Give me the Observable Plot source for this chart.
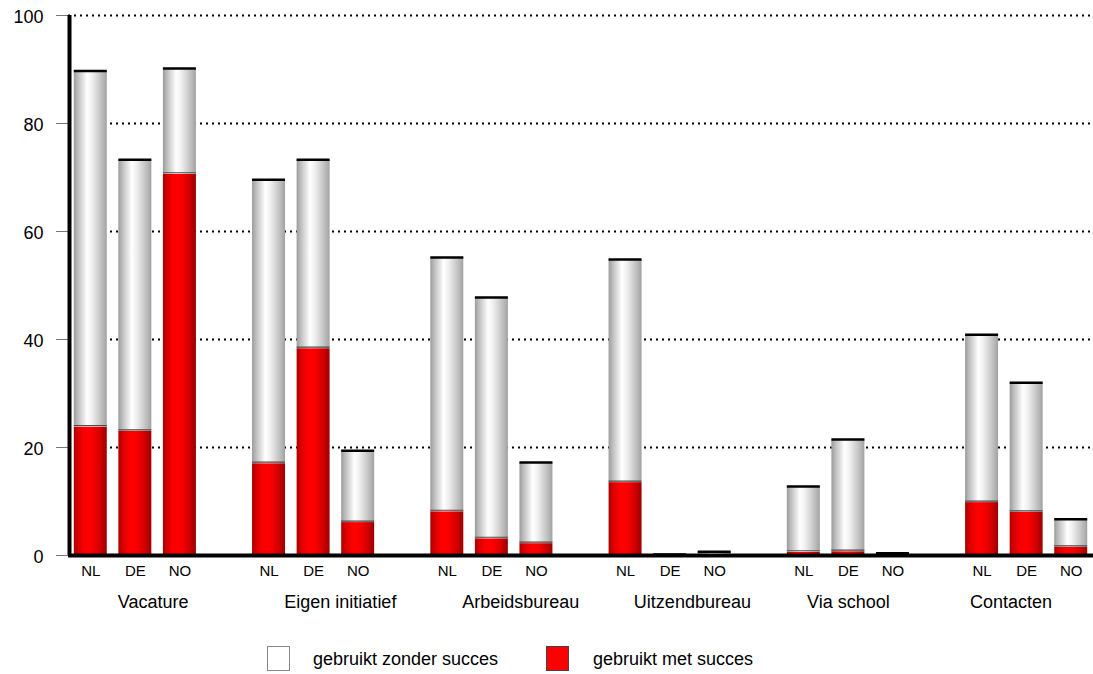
<!DOCTYPE html>
<html><head><meta charset="utf-8">
<script src="https://cdn.jsdelivr.net/npm/d3@7"></script>
<script src="https://cdn.jsdelivr.net/npm/@observablehq/plot@0.6"></script>
<style>
body{margin:0;background:#fff;font-family:"Liberation Sans",Arial,sans-serif;}
#chart svg{display:block;}
#legend{position:relative;height:34px;font-size:18px;color:#000;}
#legend .sw{position:absolute;top:6px;width:23px;height:25px;box-sizing:border-box;}
#legend .lb{position:absolute;top:8px;line-height:22px;white-space:nowrap;}
</style></head><body>
<div id="chart"></div>
<div id="legend"></div>
<script>
const groups = ["Vacature", "Eigen initiatief", "Arbeidsbureau", "Uitzendbureau", "Via school", "Contacten"];
const countries = ["NL", "DE", "NO"];
// gebruikt met succes (red), per group: NL, DE, NO
const metSucces = [
  [23.8, 23.0, 70.6],
  [17.0, 38.3, 6.1],
  [8.1, 3.1, 2.2],
  [13.5, 0, 0],
  [0.6, 0.7, 0],
  [9.8, 8.0, 1.5]
];
// gebruikt zonder succes (grey), per group: NL, DE, NO
const zonderSucces = [
  [65.9, 50.3, 19.6],
  [52.6, 35.0, 13.3],
  [47.1, 44.7, 15.0],
  [41.3, 0.2, 0.7],
  [12.2, 20.8, 0.4],
  [31.1, 24.0, 5.2]
];
const yTicks = [0, 20, 40, 60, 80, 100];
const seriesNames = ["gebruikt zonder succes", "gebruikt met succes"];

// layout-only nudges for the group captions (in slot units)
const captionNudge = [0.4, 0.6, 0.65, 0.5, 0, -0.35];

const rows = [];
groups.forEach((g, gi) => countries.forEach((c, ci) => {
  rows.push({group: g, country: c, slot: gi * 4 + ci, met: metSucces[gi][ci], zonder: zonderSucces[gi][ci]});
}));
const groupRows = groups.map((g, gi) => ({group: g, slot: gi * 4 + 1 + captionNudge[gi]}));
const hw = 0.37;
const X1 = d => d.slot - hw, X2 = d => d.slot + hw;
const slotPx = (1093 - 68) / 23;

const chart = Plot.plot({
  width: 1093, height: 640,
  marginLeft: 68, marginRight: 0, marginTop: 15, marginBottom: 85,
  style: {fontFamily: "Liberation Sans, Arial, sans-serif", fontSize: "18px", background: "#fff"},
  x: {type: "linear", domain: [-0.5, 22.5], axis: null},
  y: {domain: [0, 100], axis: null},
  marks: [
    Plot.ruleY(yTicks.filter(v => v > 0), {stroke: "#000", strokeWidth: 2, strokeDasharray: "2,4"}),
    Plot.rectY(rows.filter(d => d.met > 0), {x1: X1, x2: X2, y1: 0, y2: d => d.met, fill: "url(#gRed)"}),
    Plot.rectY(rows, {x1: X1, x2: X2, y1: d => d.met, y2: d => d.met + d.zonder, fill: "url(#gGrey)"}),
    Plot.ruleY(rows.filter(d => d.met > 0), {x1: X1, x2: X2, y: d => d.met, stroke: "#4a4a4a", strokeWidth: 1.2, dy: -1.5}),
    Plot.ruleY(rows, {x1: X1, x2: X2, y: d => d.met + d.zonder, stroke: "#000", strokeWidth: 2.5}),
    Plot.ruleY(yTicks, {x1: -0.5 - 12 / slotPx, x2: -0.5, stroke: "#777", strokeWidth: 1}),
    Plot.ruleY([0], {stroke: "#000", strokeWidth: 4}),
    Plot.ruleX([-0.5], {y1: 0, y2: 100, stroke: "#000", strokeWidth: 4, dx: 1}),
    Plot.text(yTicks, {x: -0.5, y: d => d, text: d => String(d), textAnchor: "end", dx: -25, dy: 2, fontSize: 18, fill: "#000"}),
    Plot.text(rows, {x: "slot", y: 0, text: "country", dy: 16, fontSize: 15, fill: "#000"}),
    Plot.text(groupRows, {x: "slot", y: 0, text: "group", dy: 47, fontSize: 18, fill: "#000"})
  ]
});

const svg = d3.select(chart);
const defs = svg.insert("defs", ":first-child");
function grad(id, stops) {
  const g = defs.append("linearGradient").attr("id", id).attr("x1", "0%").attr("x2", "100%").attr("y1", "0%").attr("y2", "0%");
  stops.forEach(([o, c]) => g.append("stop").attr("offset", o).attr("stop-color", c));
}
grad("gGrey", [["0%", "#9a9a9a"], ["10%", "#b8b8b8"], ["28%", "#e2e2e2"], ["40%", "#ffffff"], ["55%", "#f0f0f0"], ["75%", "#cfcfcf"], ["92%", "#b2b2b2"], ["100%", "#a0a0a0"]]);
grad("gRed", [["0%", "#a80000"], ["12%", "#d40000"], ["30%", "#f80000"], ["45%", "#ff0000"], ["60%", "#f40000"], ["80%", "#d20000"], ["100%", "#9a0000"]]);
document.getElementById("chart").appendChild(chart);

const legend = d3.select("#legend");
const items = [
  {name: seriesNames[0], fill: "#fff", border: "#888", sw: 267, lb: 313},
  {name: seriesNames[1], fill: "#ff0000", border: "#444", sw: 546, lb: 593}
];
items.forEach(it => {
  legend.append("div").attr("class", "sw").style("left", it.sw + "px").style("background", it.fill).style("border", "1px solid " + it.border);
  legend.append("div").attr("class", "lb").style("left", it.lb + "px").text(it.name);
});
</script>
</body></html>
